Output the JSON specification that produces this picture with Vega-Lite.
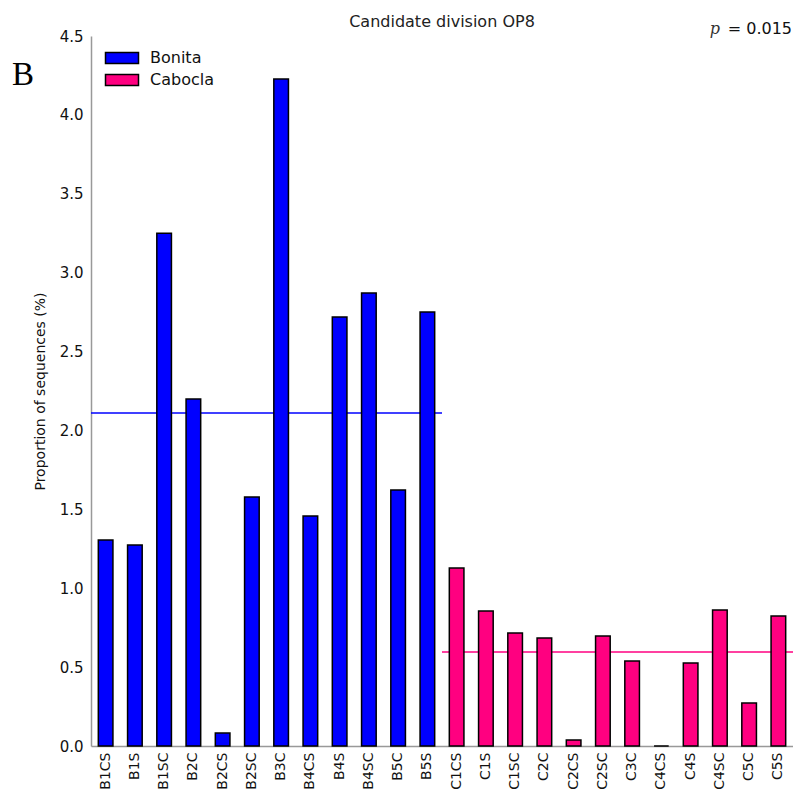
{
  "$schema": "https://vega.github.io/schema/vega-lite/v6.json",
  "width": 702,
  "height": 710,
  "autosize": {"type": "none"},
  "padding": {"left": 91, "top": 36, "right": 0, "bottom": 49},
  "background": "white",
  "title": {
    "text": "Candidate division OP8",
    "font": "DejaVu Sans",
    "fontSize": 16,
    "fontWeight": "normal",
    "color": "#222222",
    "anchor": "middle",
    "offset": -9
  },
  "config": {
    "view": {"stroke": null},
    "font": "DejaVu Sans"
  },
  "datasets": {
    "samples": [
      {"sample": "B1CS", "group": "Bonita", "value": 1.305},
      {"sample": "B1S", "group": "Bonita", "value": 1.274},
      {"sample": "B1SC", "group": "Bonita", "value": 3.25},
      {"sample": "B2C", "group": "Bonita", "value": 2.2},
      {"sample": "B2CS", "group": "Bonita", "value": 0.082},
      {"sample": "B2SC", "group": "Bonita", "value": 1.578},
      {"sample": "B3C", "group": "Bonita", "value": 4.227},
      {"sample": "B4CS", "group": "Bonita", "value": 1.458},
      {"sample": "B4S", "group": "Bonita", "value": 2.719},
      {"sample": "B4SC", "group": "Bonita", "value": 2.871},
      {"sample": "B5C", "group": "Bonita", "value": 1.622},
      {"sample": "B5S", "group": "Bonita", "value": 2.75},
      {"sample": "C1CS", "group": "Cabocla", "value": 1.128},
      {"sample": "C1S", "group": "Cabocla", "value": 0.856},
      {"sample": "C1SC", "group": "Cabocla", "value": 0.716},
      {"sample": "C2C", "group": "Cabocla", "value": 0.684},
      {"sample": "C2CS", "group": "Cabocla", "value": 0.038},
      {"sample": "C2SC", "group": "Cabocla", "value": 0.697},
      {"sample": "C3C", "group": "Cabocla", "value": 0.539},
      {"sample": "C4CS", "group": "Cabocla", "value": 0.0},
      {"sample": "C4S", "group": "Cabocla", "value": 0.526},
      {"sample": "C4SC", "group": "Cabocla", "value": 0.862},
      {"sample": "C5C", "group": "Cabocla", "value": 0.272},
      {"sample": "C5S", "group": "Cabocla", "value": 0.824}
    ],
    "means": [
      {"group": "Bonita", "first": "B1CS", "last": "B5S"},
      {"group": "Cabocla", "first": "C1CS", "last": "C5S"}
    ]
  },
  "resolve": {"scale": {"color": "shared"}, "legend": {"color": "independent"}},
  "layer": [
    {
      "data": {"name": "samples"},
      "transform": [
        {"aggregate": [{"op": "mean", "field": "value", "as": "mean"}], "groupby": ["group"]},
        {"lookup": "group", "from": {"data": {"name": "means"}, "key": "group", "fields": ["first", "last"]}}
      ],
      "mark": {"type": "rule", "strokeWidth": 1.5},
      "encoding": {
        "x": {"field": "first", "type": "nominal", "bandPosition": 0},
        "x2": {"field": "last", "bandPosition": 1},
        "y": {"field": "mean", "type": "quantitative"},
        "color": {"field": "group", "type": "nominal", "legend": null}
      }
    },
    {
      "data": {"name": "samples"},
      "mark": {"type": "bar", "width": {"band": 0.5}, "stroke": "#000000", "strokeWidth": 1.5},
      "encoding": {
        "x": {
          "field": "sample",
          "type": "nominal",
          "sort": null,
          "scale": {
            "domain": ["B1CS","B1S","B1SC","B2C","B2CS","B2SC","B3C","B4CS","B4S","B4SC","B5C","B5S","C1CS","C1S","C1SC","C2C","C2CS","C2SC","C3C","C4CS","C4S","C4SC","C5C","C5S"],
            "paddingInner": 0,
            "paddingOuter": 0
          },
          "axis": {
            "title": null,
            "labelAngle": -90,
            "labelFontSize": 14,
            "labelColor": "#111111",
            "labelPadding": 6,
            "ticks": false,
            "domainColor": "#999999",
            "domainWidth": 1.5
          }
        },
        "y": {
          "field": "value",
          "type": "quantitative",
          "scale": {"domain": [0, 4.5], "nice": false, "zero": true},
          "axis": {
            "title": "Proportion of sequences (%)",
            "titleFontSize": 14,
            "titleFontWeight": "normal",
            "titleColor": "#111111",
            "titlePadding": 12,
            "values": [0, 0.5, 1, 1.5, 2, 2.5, 3, 3.5, 4, 4.5],
            "format": ".1f",
            "labelFontSize": 15,
            "labelColor": "#111111",
            "labelPadding": 8,
            "ticks": false,
            "grid": false,
            "domainColor": "#999999",
            "domainWidth": 1.5
          }
        },
        "color": {
          "field": "group",
          "type": "nominal",
          "scale": {"domain": ["Bonita", "Cabocla"], "range": ["#0000FF", "#FF0080"]},
          "legend": {
            "title": null,
            "orient": "none",
            "legendX": 23,
            "legendY": 14,
            "padding": 0,
            "symbolType": "M-3,-1H3V1H-3Z",
            "symbolSize": 121,
            "symbolStrokeColor": "#000000",
            "symbolStrokeWidth": 1.5,
            "symbolOpacity": 1,
            "labelOffset": 20,
            "labelFontSize": 16,
            "labelColor": "#111111",
            "rowPadding": 4
          }
        }
      }
    },
    {
      "data": {"values": [{"t": "= 0.015"}]},
      "mark": {"type": "text", "align": "right", "baseline": "alphabetic", "fontSize": 16, "color": "#111111", "dx": -1, "dy": -2},
      "encoding": {
        "x": {"datum": "C5S", "bandPosition": 1},
        "y": {"datum": 4.5},
        "text": {"field": "t"}
      }
    },
    {
      "data": {"values": [{"t": "p"}]},
      "mark": {"type": "text", "align": "right", "baseline": "alphabetic", "font": "DejaVu Serif", "fontStyle": "italic", "fontSize": 16, "color": "#333333", "dx": -73, "dy": -2},
      "encoding": {
        "x": {"datum": "C5S", "bandPosition": 1},
        "y": {"datum": 4.5},
        "text": {"field": "t"}
      }
    },
    {
      "data": {"values": [{"t": "B"}]},
      "mark": {"type": "text", "align": "left", "baseline": "alphabetic", "font": "Liberation Serif", "fontSize": 33, "color": "#000000", "dx": -79, "dy": 49},
      "encoding": {
        "x": {"datum": "B1CS", "bandPosition": 0},
        "y": {"datum": 4.5},
        "text": {"field": "t"}
      }
    }
  ]
}
